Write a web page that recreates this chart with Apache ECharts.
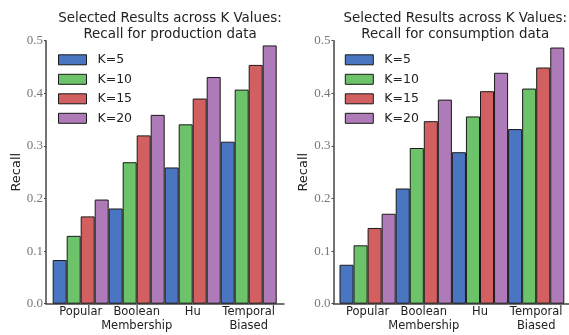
<!DOCTYPE html>
<html><head><meta charset="utf-8">
<script src="https://cdn.jsdelivr.net/npm/echarts@6/dist/echarts.min.js"></script>
<style>html,body{margin:0;padding:0;background:#fff;}#c{width:569px;height:335px;}</style>
</head><body><div id="c"></div>
<script>
const categories = ['Popular', 'Boolean\nMembership', 'Hu', 'Temporal\nBiased'];
const seriesNames = ['K=5', 'K=10', 'K=15', 'K=20'];
const yTicks = [0, 0.1, 0.2, 0.3, 0.4, 0.5];
// production data: rows = K values, columns = categories
const prodK5  = [0.083, 0.181, 0.259, 0.308];
const prodK10 = [0.129, 0.269, 0.341, 0.407];
const prodK15 = [0.166, 0.320, 0.390, 0.454];
const prodK20 = [0.198, 0.359, 0.431, 0.491];
// consumption data
const consK5  = [0.074, 0.219, 0.288, 0.332];
const consK10 = [0.111, 0.296, 0.356, 0.409];
const consK15 = [0.144, 0.347, 0.404, 0.449];
const consK20 = [0.171, 0.388, 0.439, 0.487];
const titles = ['Selected Results across K Values:\nRecall for production data',
                'Selected Results across K Values:\nRecall for consumption data'];

const colors = ['#4A75C0', '#6CC36A', '#D36060', '#AE7BB8'];
const axisColor = '#444';
const panels = [
  {data: [prodK5, prodK10, prodK15, prodK20], frameL: 46, frameR: 284, barL: 52.7, barR: 276.7},
  {data: [consK5, consK10, consK15, consK20], frameL: 333.5, frameR: 575, barL: 339.5, barR: 564.3}
];
const gTop = 40.7, gBottom = 335 - 303.7;

const grid = [], xAxis = [], yAxis = [], series = [], legend = [], title = [];
panels.forEach((p, i) => {
  const gb = grid.length;
  grid.push({left: p.barL, width: p.barR - p.barL, top: gTop, bottom: gBottom});
  grid.push({left: p.frameL, width: p.frameR - p.frameL, top: gTop, bottom: gBottom});
  xAxis.push({type: 'category', gridIndex: gb, data: categories,
    axisLine: {show: false}, axisTick: {show: false},
    axisLabel: {interval: 0, margin: 1, fontFamily: 'DejaVu Sans', fontSize: 11.5, color: '#222', lineHeight: 14}});
  xAxis.push({type: 'value', gridIndex: gb + 1, min: 0, max: 1, splitLine: {show: false},
    axisLine: {show: true, lineStyle: {color: axisColor, width: 1.5}}, axisTick: {show: false}, axisLabel: {show: false}});
  yAxis.push({type: 'value', gridIndex: gb, min: 0, max: 0.5, show: false});
  yAxis.push({type: 'value', gridIndex: gb + 1, min: 0, max: 0.5, interval: 0.1,
    splitLine: {show: false},
    axisLine: {show: true, lineStyle: {color: axisColor, width: 1.5}},
    axisTick: {show: true, length: 2, lineStyle: {color: axisColor}},
    axisLabel: {margin: 3, fontFamily: 'Liberation Serif', fontSize: 13, color: '#777',
      formatter: v => yTicks.includes(Math.round(v*10)/10) ? v.toFixed(1) : ''},
    name: 'Recall', nameLocation: 'middle', nameGap: 23,
    nameTextStyle: {fontFamily: 'DejaVu Sans', fontSize: 13, color: '#222'}});
  p.data.forEach((arr, k) => {
    series.push({type: 'bar', name: seriesNames[k], xAxisIndex: gb, yAxisIndex: gb,
      data: arr, barGap: '0%', barCategoryGap: '0%',
      itemStyle: {color: colors[k], borderColor: '#1a1a1a', borderWidth: 1},
      emphasis: {disabled: true}});
  });
  legend.push({orient: 'vertical', left: p.barL + 5.3, top: 53.3, padding: 0,
    itemWidth: 28, itemHeight: 10, itemGap: 6.5, icon: 'rect',
    data: seriesNames, selectedMode: false,
    itemStyle: {borderColor: '#1a1a1a', borderWidth: 1},
    textStyle: {fontFamily: 'DejaVu Sans', fontSize: 12.5, color: '#222', padding: [0,0,0,6]}});
  title.push({text: titles[i], left: (p.frameL + Math.min(p.frameR, 569)) / 2 + (i ? -1 : 0), textAlign: 'center', top: 6,
    textStyle: {fontFamily: 'DejaVu Sans', fontSize: 13.4, fontWeight: 'normal', color: '#222', lineHeight: 16}});
});

const chart = echarts.init(document.getElementById('c'), null, {renderer: 'canvas'});
chart.setOption({animation: false, color: colors, title, grid, xAxis, yAxis, series, legend});
</script></body></html>
